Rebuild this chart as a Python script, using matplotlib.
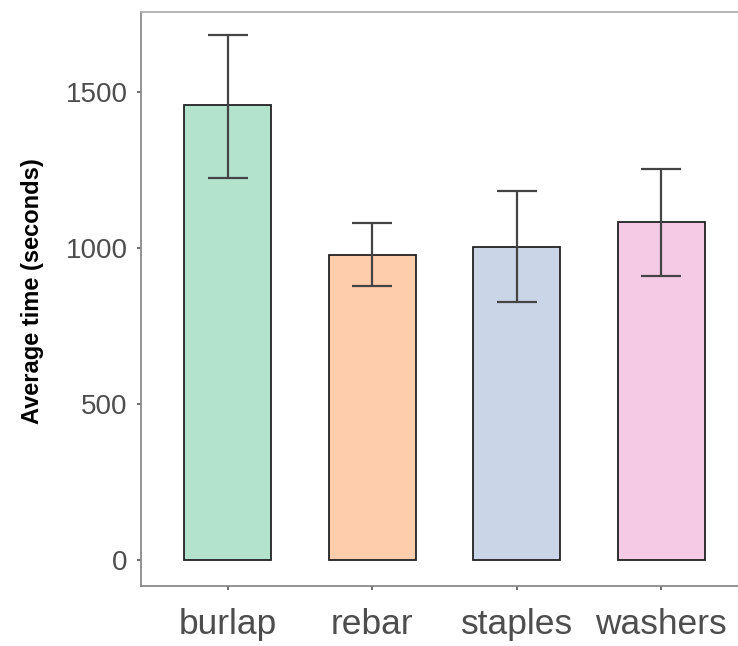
import matplotlib.pyplot as plt
import numpy as np

plt.rcParams['font.family'] = ['Liberation Sans', 'DejaVu Sans']

materials = ['burlap', 'rebar', 'staples', 'washers']
mean_time = [1458, 978, 1003, 1083]
err_low = [1224, 878, 827, 910]
err_high = [1683, 1080, 1183, 1253]
colors = ['#b3e2cd', '#fdcdac', '#cbd5e8', '#f4cae4']

x = np.arange(1, len(materials) + 1)
mean = np.array(mean_time)
yerr = [mean - np.array(err_low), np.array(err_high) - mean]

fig = plt.figure(figsize=(7.38, 6.46), dpi=100)
# panel runs off the right edge a little
ax = fig.add_axes([141 / 738, 60 / 646, 607 / 738, 574 / 646])

ax.bar(x, mean, width=0.6, color=colors, edgecolor='#222222', linewidth=1.3, zorder=2)
ax.errorbar(x, mean, yerr=yerr, fmt='none', ecolor='#444444', elinewidth=1.6,
            capsize=14.5, capthick=1.6, zorder=3)

ax.set_xlim(0.4, 4.6)
ax.set_ylim(-83, 1757)
ax.set_xticks(x)
ax.set_xticklabels(materials, fontsize=25.5, color='#4d4d4d')
ax.set_yticks([0, 500, 1000, 1500])
ax.set_yticklabels(['0', '500', '1000', '1500'], fontsize=20, color='#4d4d4d')
ax.tick_params(axis='both', color='#555555', length=3, width=1.2)
ax.tick_params(axis='x', pad=12.5)
ax.tick_params(axis='y', pad=6.5)

for side in ['left', 'bottom', 'top', 'right']:
    ax.spines[side].set_color('#8a8a8a')
    ax.spines[side].set_linewidth(1.3)
ax.spines['top'].set_color('#b0b0b0')

ax.set_ylabel('Average time (seconds)', fontsize=17, fontweight='bold', color='black')
ax.yaxis.set_label_coords(-0.16, 0.514)

fig.savefig('out.png', dpi=100)
